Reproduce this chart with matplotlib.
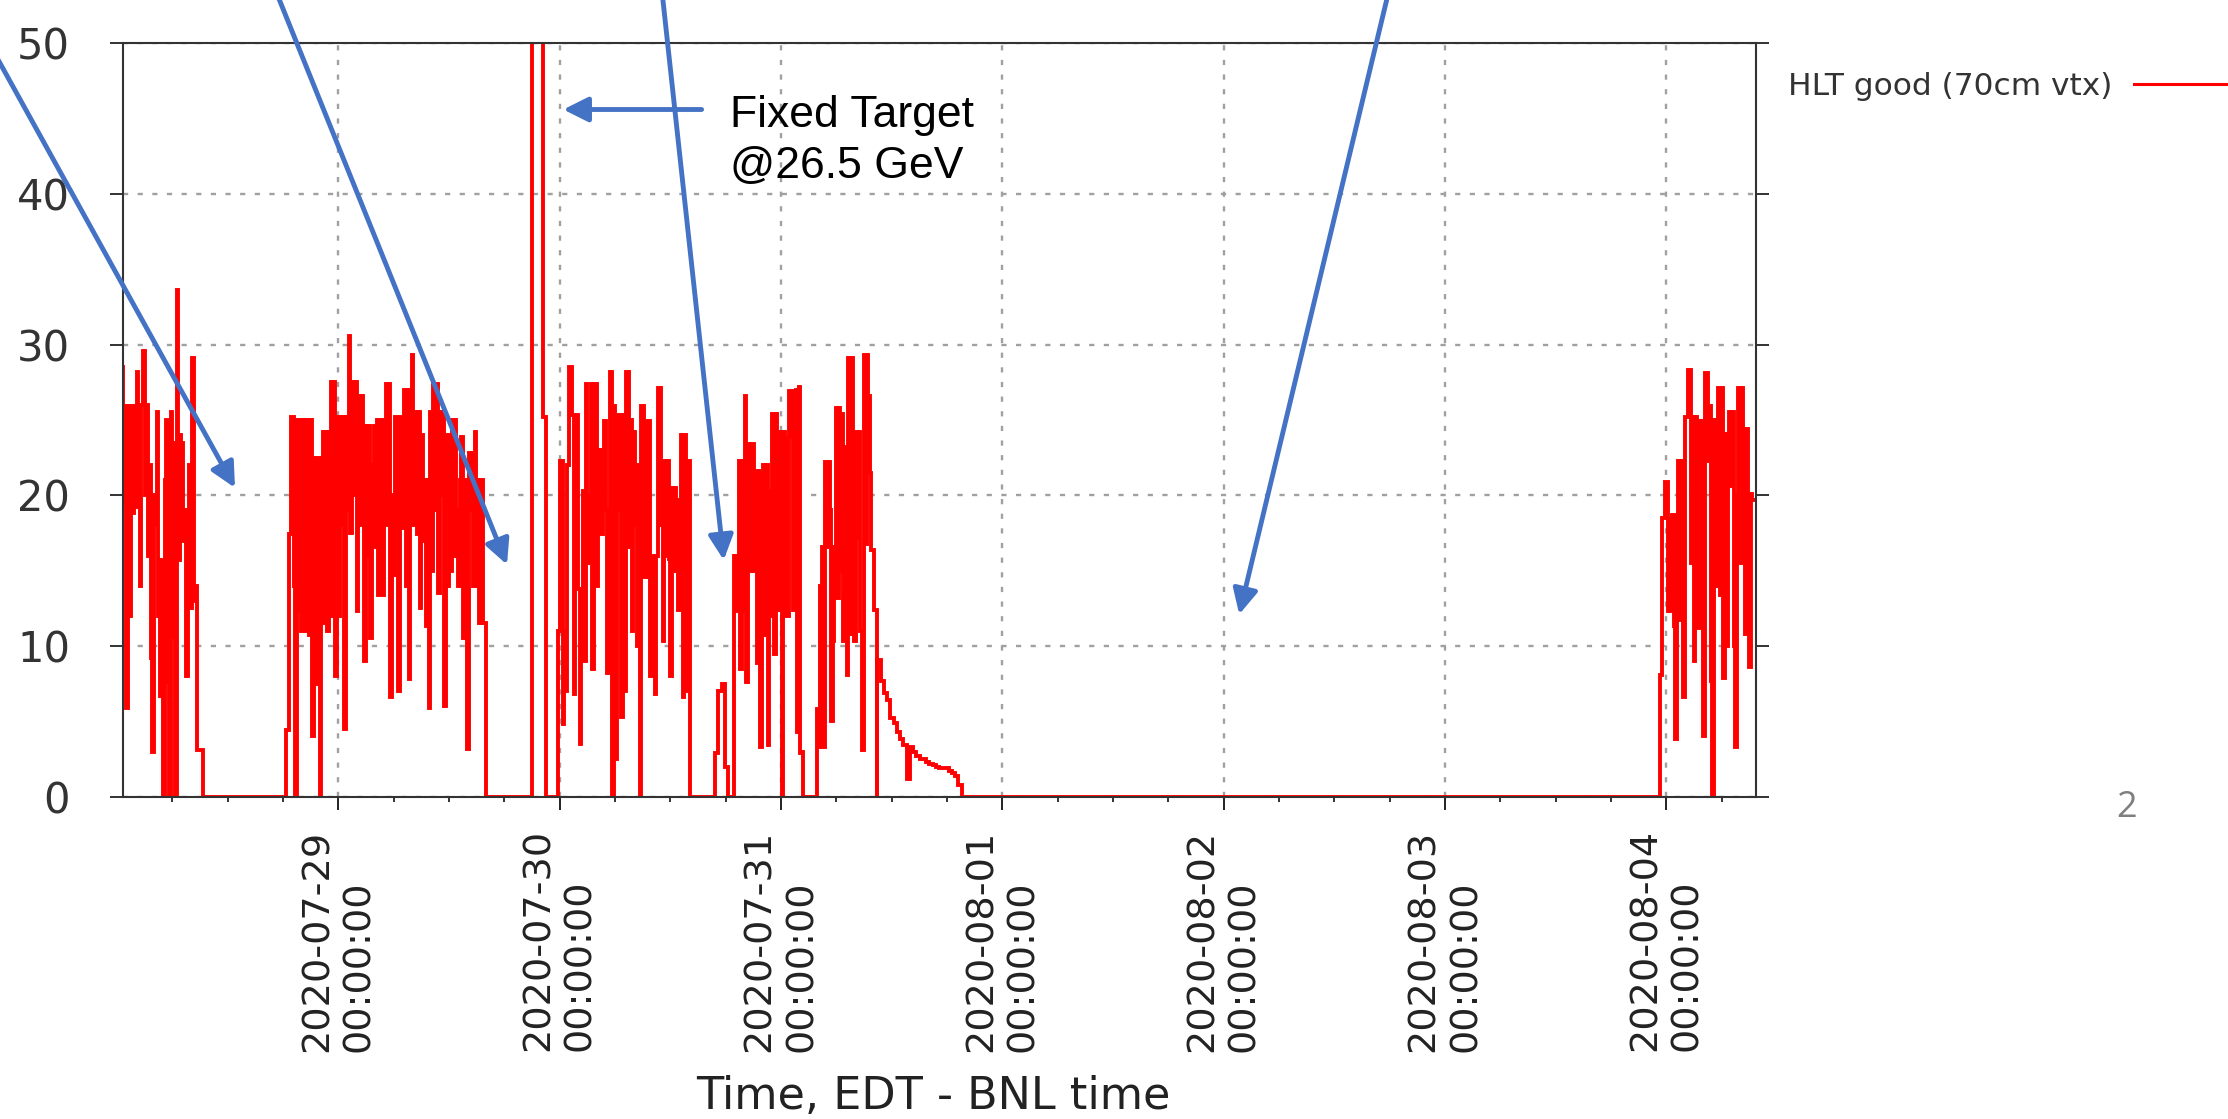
import matplotlib
matplotlib.use("Agg")
import matplotlib.pyplot as plt
import matplotlib.dates as mdates
from datetime import datetime

# HLT good (70cm vtx) rate (about 10 minute bins)
# segment start/end are hours counted from 2020-07-28 00:00
t0 = datetime(2020, 7, 28)

seg_a_span = (0.33, 9.33)
seg_a = [28.5, 28.5, 25.9, 19.5, 5.9, 25.9, 12.0, 25.9, 18.8, 25.9, 19.2, 28.2,
         22.0, 14.0, 26.0, 29.6, 20.0, 26.0, 16.0, 22.0, 9.2, 3.0, 20.0, 18.0,
         25.5, 12.0, 6.7, 15.7, 0.0, 21.0, 25.0, 7.6, 0.0, 25.5, 10.6, 23.5,
         0.0, 33.6, 15.7, 24.0, 23.5, 17.0, 19.0, 8.0, 17.0, 22.0, 12.5, 29.1,
         13.0, 14.0, 3.1, 3.1, 3.1, 3.1]

seg_b_span = (18.33, 39.98)
seg_b = [4.4, 4.4, 17.4, 25.2, 25.2, 14.0, 0.0, 25.0, 12.3, 25.0, 11.0, 20.0,
         25.0, 11.0, 25.0, 10.7, 25.0, 4.0, 22.5, 15.0, 7.5, 22.5, 0.0, 20.0,
         24.2, 11.5, 24.2, 11.0, 24.2, 27.5, 12.0, 27.5, 8.0, 25.2, 12.0, 25.2,
         18.0, 25.2, 4.5, 25.2, 19.0, 30.6, 17.5, 27.5, 20.0, 27.5, 12.3, 26.6,
         18.0, 26.6, 24.6, 9.0, 24.6, 16.0, 24.6, 10.5, 22.0, 24.6, 16.6, 25.0,
         13.4, 25.0, 20.0, 13.4, 25.0, 27.4, 18.0, 27.4, 6.6, 20.0, 14.7, 25.2,
         18.0, 7.0, 25.2, 17.8, 24.0, 27.0, 14.0, 27.0, 7.8, 22.0, 29.3, 18.0,
         25.5, 17.4, 25.5, 12.5, 24.0, 17.0, 21.0, 11.3, 21.0, 5.9, 25.5, 15.0,
         27.4, 19.0, 27.4, 13.5, 25.5, 20.0, 25.5, 6.0, 24.0, 14.0, 24.0, 15.0,
         25.0, 16.0, 25.0, 19.0, 14.0, 21.0, 23.9, 10.5, 21.0, 16.0, 3.2, 22.8,
         19.0, 22.8, 14.0, 24.2, 14.0, 21.0, 11.5, 21.0, 11.5, 11.5]

# fixed target fill, goes off scale
seg_ft_span = (45.05, 46.55)
seg_ft = [60.0, 60.0, 60.0, 25.2]

seg_c_span = (47.86, 62.17)
seg_c = [11.0, 22.3, 22.3, 4.8, 11.0, 7.0, 22.0, 28.5, 28.5, 25.3, 6.8, 18.4,
         25.3, 13.8, 3.5, 13.8, 20.3, 9.0, 27.4, 20.0, 15.5, 27.4, 8.5, 27.4,
         27.4, 14.0, 22.0, 23.0, 17.4, 23.0, 24.9, 19.0, 8.2, 19.0, 28.2, 0.0,
         25.9, 2.5, 19.0, 25.3, 19.0, 5.3, 25.3, 7.0, 28.2, 28.2, 16.6, 25.0,
         11.0, 24.2, 18.0, 10.0, 22.0, 0.0, 25.9, 25.9, 14.6, 24.9, 14.6, 24.9,
         8.0, 16.0, 12.8, 6.8, 16.0, 27.1, 27.1, 18.0, 10.3, 22.3, 16.0, 22.3,
         15.8, 8.0, 20.5, 15.0, 20.5, 19.7, 12.4, 19.7, 24.0, 6.6, 24.0, 22.3,
         7.0, 22.3]

seg_p_span = (64.85, 66.3)
seg_p = [2.9, 7.0, 7.5, 2.0]

seg_d1_span = (66.91, 74.43)
seg_d1 = [16.0, 12.3, 16.0, 22.3, 8.5, 22.3, 12.3, 26.6, 7.6, 23.4, 15.0, 23.4,
          23.4, 15.0, 21.6, 8.9, 21.6, 3.3, 19.0, 22.0, 10.7, 22.0, 3.4, 20.3,
          12.0, 25.4, 9.5, 25.4, 24.2, 12.4, 24.2, 0.0, 24.2, 12.0, 23.8, 12.0,
          26.9, 23.9, 12.4, 26.9, 27.0, 4.3, 27.2, 2.9, 3.0]

seg_d2_span = (75.95, 82.46)
seg_d2 = [5.8, 3.3, 14.0, 16.6, 3.3, 22.2, 16.6, 22.2, 19.0, 5.0, 10.3, 16.6,
          25.8, 13.2, 25.8, 15.0, 25.4, 10.3, 23.2, 8.1, 29.1, 10.8, 29.1, 23.7,
          10.3, 24.2, 17.2, 24.2, 11.0, 3.1, 29.3, 16.8, 29.3, 26.6, 21.5, 16.4,
          16.4, 12.4, 12.4]

# slow decay after the beam dump
seg_tail_span = (82.46, 91.61)
seg_tail = [9.1, 7.7, 6.9, 6.4, 5.2, 4.9, 4.3, 3.8, 3.4, 1.2, 3.3, 3.0, 2.7,
            2.5, 2.5, 2.3, 2.2, 2.1, 2.0, 1.9, 1.9, 1.9, 1.7, 1.6, 1.4, 0.8]

seg_e_span = (167.33, 178.0)
seg_e = [8.1, 18.5, 18.5, 20.9, 20.9, 12.3, 18.4, 12.3, 18.7, 11.3, 3.8, 18.7,
         22.3, 11.7, 22.3, 6.6, 25.2, 25.2, 28.3, 28.3, 15.5, 25.2, 9.0, 25.2,
         24.9, 11.2, 24.9, 21.7, 4.0, 28.1, 28.1, 22.3, 25.9, 7.7, 0.0, 25.0,
         25.0, 14.0, 27.1, 13.4, 27.1, 7.9, 24.1, 10.0, 24.1, 25.5, 20.6, 25.5,
         10.0, 3.3, 20.0, 27.1, 15.5, 27.1, 24.4, 10.8, 24.4, 20.1, 8.6, 20.1,
         19.7, 19.7, 19.7, 19.7]

# annotation arrows (hours, value): tails sit above the plot
note_tails = [(-16.5, 52.9), (17.6, 52.9), (59.2, 52.9), (137.7, 52.9)]
note_heads = [(12.8, 20.5), (42.3, 15.4), (65.8, 15.7), (121.7, 12.1)]
ft_tail = (63.4, 45.6)
ft_head = (48.4, 45.6)

segments = [(seg_a_span, seg_a), (seg_b_span, seg_b), (seg_ft_span, seg_ft),
            (seg_c_span, seg_c), (seg_p_span, seg_p), (seg_d1_span, seg_d1),
            (seg_d2_span, seg_d2), (seg_tail_span, seg_tail), (seg_e_span, seg_e)]

hours = [-2.0]
rate = [0.0]
for (start, end), vals in segments:
    w = (end - start) / len(vals)
    for i, val in enumerate(vals):
        hours.append(start + i * w)
        rate.append(val)
    hours.append(end)
    rate.append(0.0)

base = mdates.date2num(t0)


def hx(h):
    return base + h / 24.0


x = [hx(h) for h in hours]

plt.rcParams['font.family'] = ['DejaVu Sans']

fig = plt.figure(figsize=(22.28, 11.19), dpi=100)
ax = fig.add_axes([0.05534, 0.2880, 0.73286, 0.6734])

ax.step(x, rate, where='post', color='red', lw=2.8, label='HLT good (70cm vtx)',
        solid_joinstyle='miter')

ax.set_xlim(hx(0.69), hx(177.75))
ax.set_ylim(0, 50)
ax.xaxis_date()
ax.xaxis.set_major_locator(mdates.DayLocator())
ax.xaxis.set_minor_locator(mdates.HourLocator(byhour=[0, 6, 12, 18]))
ax.xaxis.set_major_formatter(mdates.DateFormatter('%Y-%m-%d\n%H:%M:%S'))
ax.set_yticks([0, 10, 20, 30, 40, 50])

ax.grid(True, which='major', color='#a0a0a0', lw=1.7, linestyle=(0, (2.2, 4.0)))
for s in ax.spines.values():
    s.set_color('#333333')
    s.set_linewidth(1.5)

ax.tick_params(axis='x', which='major', direction='out', length=9.5, width=1.4,
               pad=14, labelsize=27.5, labelrotation=90, colors='#222222', top=False)
ax.tick_params(axis='x', which='minor', direction='out', length=3.6, width=1.4,
               colors='#333333', top=False)
ax.tick_params(axis='y', which='major', direction='out', length=9.4, width=1.4,
               left=True, right=True, pad=29, labelsize=30, colors='#333333')
for lbl in ax.get_xticklabels():
    lbl.set_multialignment('left')
    lbl.set_color('#222222')

ax.set_xlabel('Time, EDT - BNL time', fontsize=32, color='#222222')
ax.xaxis.set_label_coords(0.496, -0.415)
ax.xaxis.label.set_va('baseline')

arrow_kw = dict(arrowstyle='-|>,head_length=1.5,head_width=0.75', color='#4472C4',
                lw=3.5, mutation_scale=10, shrinkA=0, shrinkB=0)
for (tx, ty), (hx_, hy) in zip(note_tails, note_heads):
    ax.annotate('', xy=(hx(hx_), hy), xytext=(hx(tx), ty), arrowprops=arrow_kw,
                annotation_clip=False)
ax.annotate('', xy=(hx(ft_head[0]), ft_head[1]), xytext=(hx(ft_tail[0]), ft_tail[1]),
            arrowprops=arrow_kw, annotation_clip=False)
ax.text(hx(66.5), 44.44, 'Fixed Target', fontsize=32, family='Liberation Sans',
        va='baseline', ha='left')
ax.text(hx(66.5), 41.05, '@26.5 GeV', fontsize=32, family='Liberation Sans',
        va='baseline', ha='left')

leg = ax.legend(loc='upper left', bbox_to_anchor=(1788 / 2228, 1 - 72 / 1119),
                bbox_transform=fig.transFigure, frameon=False, markerfirst=False,
                fontsize=22.5, handlelength=3.4, handletextpad=0.7,
                borderpad=0, borderaxespad=0)
for t in leg.get_texts():
    t.set_color('#333333')
leg.get_lines()[0].set_linewidth(2.2)

fig.text(2127 / 2228, 1 - 808 / 1119, '2', ha='center', va='center',
         color='#7f7f7f', fontsize=26, family='Open Sans')

fig.savefig('out.png', dpi=100)
